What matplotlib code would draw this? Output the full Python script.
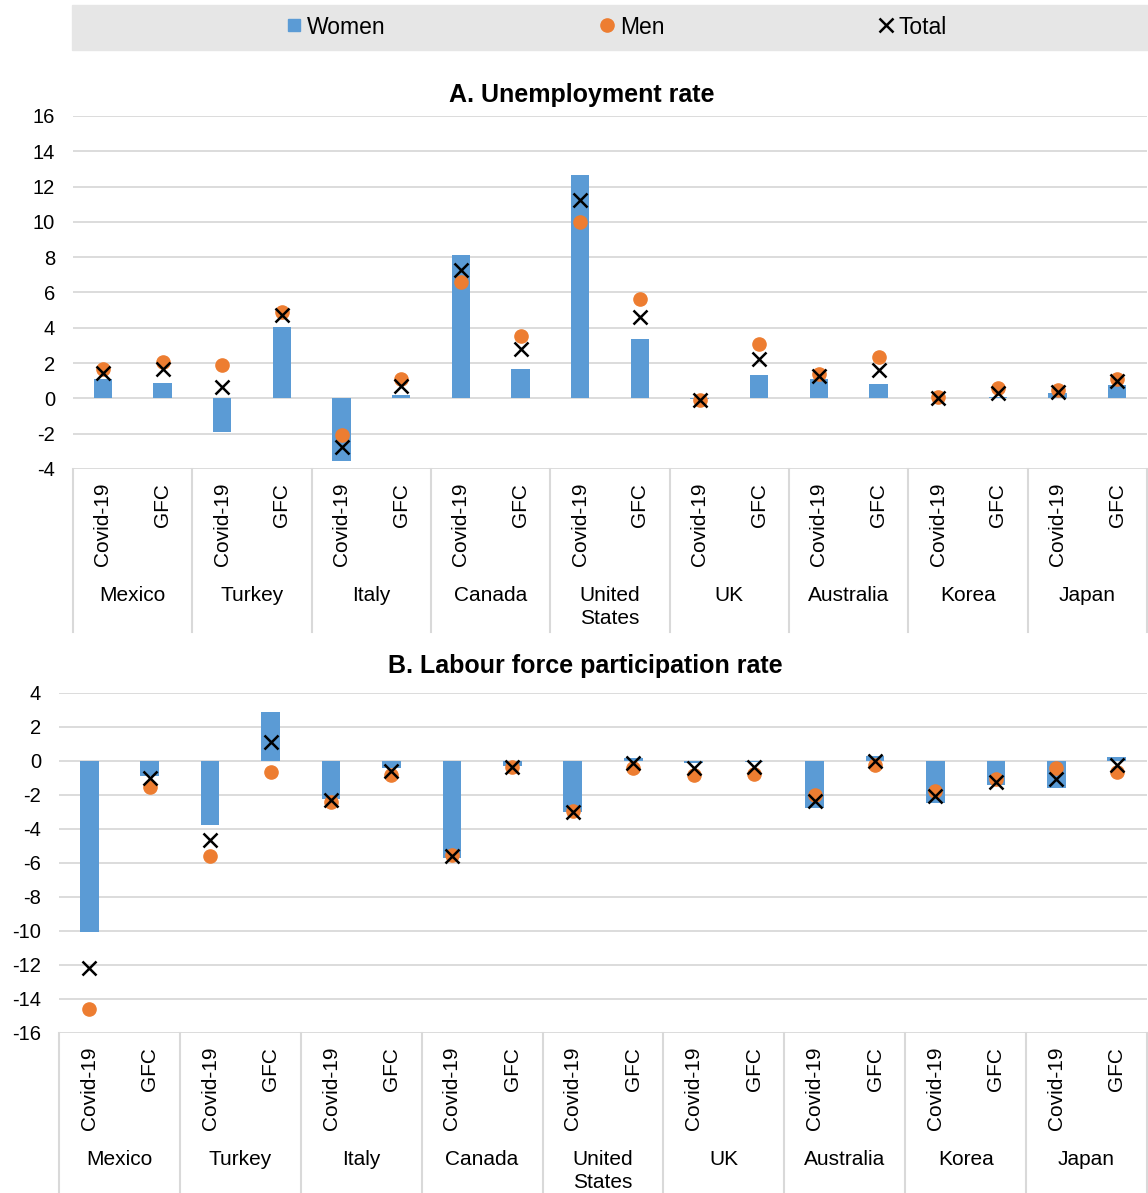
import matplotlib
matplotlib.use("Agg")
import matplotlib.pyplot as plt
from matplotlib.lines import Line2D
import matplotlib.transforms as mtransforms
import numpy as np

plt.rcParams['font.family'] = ['Liberation Sans', 'DejaVu Sans']
plt.rcParams['axes.unicode_minus'] = False

countries = ["Mexico", "Turkey", "Italy", "Canada", "United\nStates", "UK", "Australia", "Korea", "Japan"]
periods = ["Covid-19", "GFC"]

unemp_women = [1.1, 0.9, -1.9, 4.06, -3.55, 0.19, 8.13, 1.65, 12.67, 3.36, -0.05, 1.32, 1.1, 0.81, 0.05, 0.1, 0.28, 0.76]
unemp_men = [1.65, 2.08, 1.9, 4.9, -2.08, 1.1, 6.6, 3.53, 10.0, 5.63, -0.1, 3.08, 1.38, 2.33, 0.06, 0.57, 0.47, 1.08]
unemp_total = [1.42, 1.65, 0.66, 4.73, -2.74, 0.7, 7.3, 2.78, 11.25, 4.6, -0.1, 2.25, 1.27, 1.6, 0.04, 0.32, 0.38, 0.98]

lfp_women = [-10.08, -0.86, -3.76, 2.88, -2.25, -0.43, -5.71, -0.29, -3.01, 0.16, -0.14, -0.05, -2.74, 0.29, -2.49, -1.41, -1.57, 0.21]
lfp_men = [-14.58, -1.55, -5.58, -0.67, -2.39, -0.82, -5.52, -0.37, -2.92, -0.43, -0.82, -0.76, -2.0, -0.23, -1.74, -1.06, -0.39, -0.63]
lfp_total = [-12.17, -0.98, -4.64, 1.13, -2.29, -0.57, -5.58, -0.37, -3.01, -0.14, -0.43, -0.37, -2.33, 0.02, -2.05, -1.21, -1.08, -0.23]

BLUE = "#5B9BD5"
ORANGE = "#ED7D31"
GRID = "#D9D9D9"

W, H = 1148, 1193
fig = plt.figure(figsize=(W / 100, H / 100), dpi=100)

# legend band
fig.patches.append(plt.Rectangle((72 / W, 1 - 50 / H), 1 - 72 / W, 45 / H,
                                 transform=fig.transFigure, color="#E6E6E6", zorder=0))
handles = [
    Line2D([], [], marker='s', color=BLUE, linestyle='none', markersize=8),
    Line2D([], [], marker='o', color=ORANGE, linestyle='none', markersize=9.5),
    Line2D([], [], marker='x', color='black', linestyle='none', markersize=10, markeredgewidth=1.8),
]
fig.legend(handles, ["Women", "Men", "Total"], loc='center', bbox_to_anchor=(616 / W, 1 - 27 / H),
           ncol=3, frameon=False, fontsize=16.5, columnspacing=9.26, handletextpad=0.17, handlelength=0.8)

labels = [p for c in countries for p in periods]
x = np.arange(len(labels))


def panel(rect, women, men, total, ylim, title, title_x, title_y, sep_depth, name_y):
    ax = fig.add_axes(rect)
    ax.bar(x, women, width=0.31, color=BLUE, zorder=2)
    ax.plot(x, men, 'o', color=ORANGE, markersize=9.5, zorder=3, clip_on=False)
    ax.plot(x, total, 'x', color='black', markersize=9.5, markeredgewidth=1.8, zorder=4, clip_on=False)
    ax.set_xlim(-0.5, len(labels) - 0.5)
    ax.set_ylim(*ylim)
    ax.set_yticks(np.arange(ylim[0], ylim[1] + 1, 2))
    ax.yaxis.grid(True, color=GRID, linewidth=1.3, zorder=0)
    ax.set_axisbelow(True)
    for s in ax.spines.values():
        s.set_visible(False)
    ax.tick_params(axis='y', length=0, pad=13, labelsize=14.5)
    ax.set_xticks(x)
    ax.set_xticklabels(labels, rotation=90, fontsize=15)
    ax.tick_params(axis='x', length=0, pad=10)
    trans = mtransforms.blended_transform_factory(ax.transData, ax.transAxes)
    for i in range(len(countries) + 1):
        xs = i * 2 - 0.5
        ax.plot([xs, xs], [0, -sep_depth], transform=trans, color=GRID, linewidth=1.5, clip_on=False)
    for i, c in enumerate(countries):
        ax.text(i * 2 + 0.5, -name_y, c, transform=trans, ha='center', va='top', fontsize=15,
                linespacing=1.3)
    ax.text(title_x, title_y, title, transform=ax.transAxes, ha='center', va='center',
            fontsize=18, fontweight='bold')
    return ax


panel([73 / W, 1 - 469 / H, 1074 / W, 353 / H], unemp_women, unemp_men, unemp_total, (-4, 16),
      "A. Unemployment rate", (582 - 73) / 1074, 1 + 21 / 353, 163 / 353, 117 / 353)
panel([59 / W, 1 - 1033 / H, 1088 / W, 340 / H], lfp_women, lfp_men, lfp_total, (-16, 4),
      "B. Labour force participation rate", (585 - 59) / 1088, 1 + 27 / 340, 160 / 340, 117 / 340)

fig.savefig("out.png", dpi=100)
